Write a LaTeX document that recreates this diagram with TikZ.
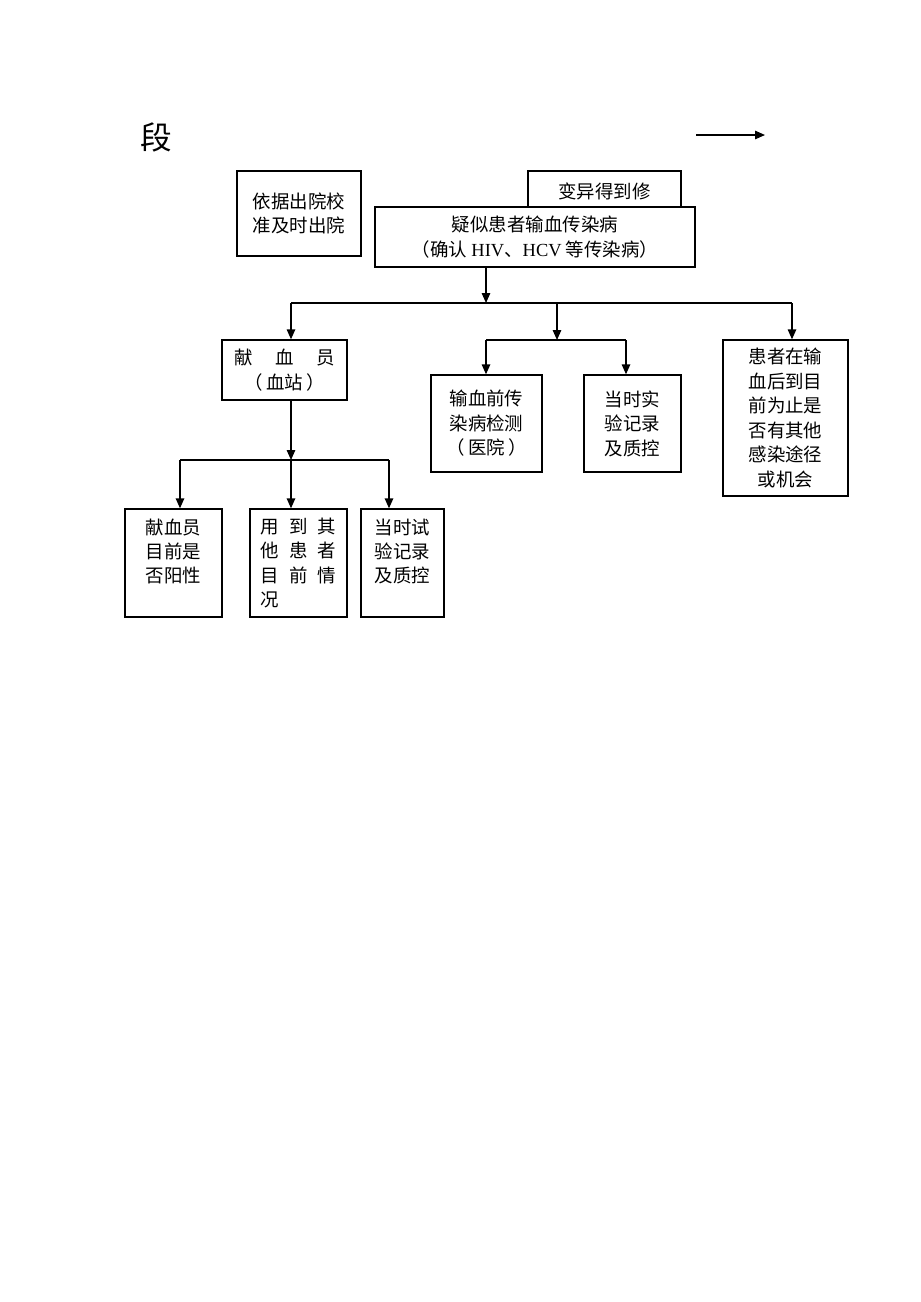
\documentclass[tikz,border=0pt]{standalone}
\usepackage{fontspec}
\setmainfont{Liberation Serif}
\newfontfamily\cjk{Noto Sans CJK SC}
\usetikzlibrary{arrows.meta}

\begin{document}
\begin{tikzpicture}[x=0.02cm,y=-0.02cm,
	box/.style={draw,line width=0.8pt,fill=white,align=center,inner sep=0pt,
		font=\cjk\fontsize{10.5}{13.9}\selectfont},
	arr/.style={-{Triangle[length=2mm,width=1.7mm]},line width=0.8pt},
	bus/.style={line width=0.8pt}]
	\useasboundingbox (0,0) rectangle (920,1302);
	% title and arrow
	\node[font=\cjk\fontsize{18}{20}\selectfont] (duan) at (156,137) {段};
	\coordinate (a0) at (696,135);
	\coordinate (a1) at (765,135);
	\draw[arr] (a0) -- (a1);
	% top boxes
	\node[box,minimum width=2.48cm,minimum height=1.7cm] (yiju) at (299,213.5) {依据出院校\\准及时出院};
	\node[box,minimum width=3.06cm,minimum height=0.8cm] (bianyi) at (604.5,191) {变异得到修};
	\node[box,minimum width=6.4cm,minimum height=1.2cm] (yisi) at (535,237)
		{疑似患者输血传染病\\（确认 {\rmfamily HIV}、{\rmfamily HCV} 等传染病）};
	% second row
	\node[box,minimum width=2.5cm,minimum height=1.2cm] (xianxue) at (284.5,370)
		{献\hspace{0.45cm}血\hspace{0.45cm}员\\（\,血站\,）};
	\node[box,minimum width=2.22cm,minimum height=1.94cm] (jiance) at (486.5,423.5) {输血前传\\染病检测\\（\,医院\,）};
	\node[box,minimum width=1.94cm,minimum height=1.94cm] (shiyan) at (632.5,423.5) {当时实\\验记录\\及质控};
	\node[box,minimum width=2.5cm,minimum height=3.12cm] (huanzhe) at (785.5,418)
		{患者在输\\血后到目\\前为止是\\否有其他\\感染途径\\或机会};
	% bottom row
	\node[box,minimum width=1.94cm,minimum height=2.16cm] (yangxing) at (173.5,563) {献血员\\目前是\\否阳性\\\mbox{}};
	\node[box,minimum width=1.94cm,minimum height=2.16cm,align=left] (qita) at (298.5,563)
		{用\hspace{0.2cm}到\hspace{0.2cm}其\\他\hspace{0.2cm}患\hspace{0.2cm}者\\目\hspace{0.2cm}前\hspace{0.2cm}情\\况};
	\node[box,minimum width=1.66cm,minimum height=2.16cm] (zhikong) at (402.5,563) {当时试\\验记录\\及质控\\\mbox{}};
	% connectors
	\coordinate (j1) at (486,303);
	\coordinate (l1) at (291,303);
	\coordinate (m1) at (557,303);
	\coordinate (r1) at (792,303);
	\draw[arr] (yisi.south -| j1) -- (j1);
	\draw[bus] (l1) -- (r1);
	\draw[arr] (l1) -- (l1 |- xianxue.north);
	\draw[arr] (r1) -- (r1 |- huanzhe.north);
	\coordinate (j2) at (557,340);
	\coordinate (l2) at (486,340);
	\coordinate (r2) at (626,340);
	\draw[arr] (m1) -- (j2);
	\draw[bus] (l2) -- (r2);
	\draw[arr] (l2) -- (l2 |- jiance.north);
	\draw[arr] (r2) -- (r2 |- shiyan.north);
	\coordinate (j3) at (291,460);
	\coordinate (l3) at (180,460);
	\coordinate (r3) at (389,460);
	\draw[arr] (xianxue.south -| j3) -- (j3);
	\draw[bus] (l3) -- (r3);
	\draw[arr] (l3) -- (l3 |- yangxing.north);
	\draw[arr] (j3) -- (j3 |- qita.north);
	\draw[arr] (r3) -- (r3 |- zhikong.north);
\end{tikzpicture}
\end{document}
